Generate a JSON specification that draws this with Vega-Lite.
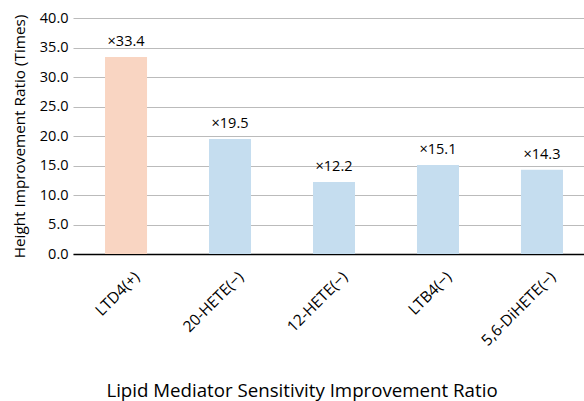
{
  "$schema": "https://vega.github.io/schema/vega-lite/v6.json",
  "autosize": "none",
  "padding": {"left": 73, "top": 18, "right": 0, "bottom": 147},
  "width": 522,
  "height": 236,
  "background": "white",
  "config": {
    "font": "Open Sans",
    "view": {"stroke": null}
  },
  "data": {
    "values": [
      {"mediator": "LTD4(+)", "ratio": 33.4, "label": "×33.4", "mode": "positive"},
      {"mediator": "20-HETE(−)", "ratio": 19.5, "label": "×19.5", "mode": "negative"},
      {"mediator": "12-HETE(−)", "ratio": 12.2, "label": "×12.2", "mode": "negative"},
      {"mediator": "LTB4(−)", "ratio": 15.1, "label": "×15.1", "mode": "negative"},
      {"mediator": "5,6-DiHETE(−)", "ratio": 14.3, "label": "×14.3", "mode": "negative"}
    ]
  },
  "encoding": {
    "x": {
      "field": "mediator",
      "type": "nominal",
      "sort": null,
      "scale": {"paddingInner": 0.596, "paddingOuter": 0.308},
      "axis": {
        "title": "Lipid Mediator Sensitivity Improvement Ratio",
        "titleFontSize": 18.7,
        "titleFontWeight": "normal",
        "titleColor": "#000",
        "titleX": 228.5,
        "titleY": 142,
        "titleBaseline": "alphabetic",
        "labelAngle": -45,
        "labelFontSize": 15.5,
        "labelColor": "#000",
        "ticks": false,
        "labelPadding": 15,
        "labelOffset": 6,
        "domainColor": "#000",
        "domainWidth": 1.5
      }
    },
    "y": {
      "field": "ratio",
      "type": "quantitative",
      "scale": {"domain": [0, 40]},
      "axis": {
        "title": "Height Improvement Ratio (Times)",
        "titleFontSize": 15.3,
        "titleFontWeight": "normal",
        "titleColor": "#000",
        "titlePadding": 12,
        "format": ".1f",
        "values": [0, 5, 10, 15, 20, 25, 30, 35, 40],
        "labelFontSize": 14.5,
        "labelColor": "#000",
        "labelPadding": 5,
        "ticks": false,
        "domain": false,
        "gridColor": "#bbbbbb",
        "gridWidth": 1
      }
    }
  },
  "layer": [
    {
      "mark": {"type": "bar"},
      "encoding": {
        "color": {
          "field": "mode",
          "type": "nominal",
          "scale": {"domain": ["positive", "negative"], "range": ["#f9d5c2", "#c5ddef"]},
          "legend": null
        }
      }
    },
    {
      "mark": {"type": "text", "dy": -11, "fontSize": 14.5, "color": "#000", "baseline": "alphabetic"},
      "encoding": {"text": {"field": "label"}}
    }
  ]
}
